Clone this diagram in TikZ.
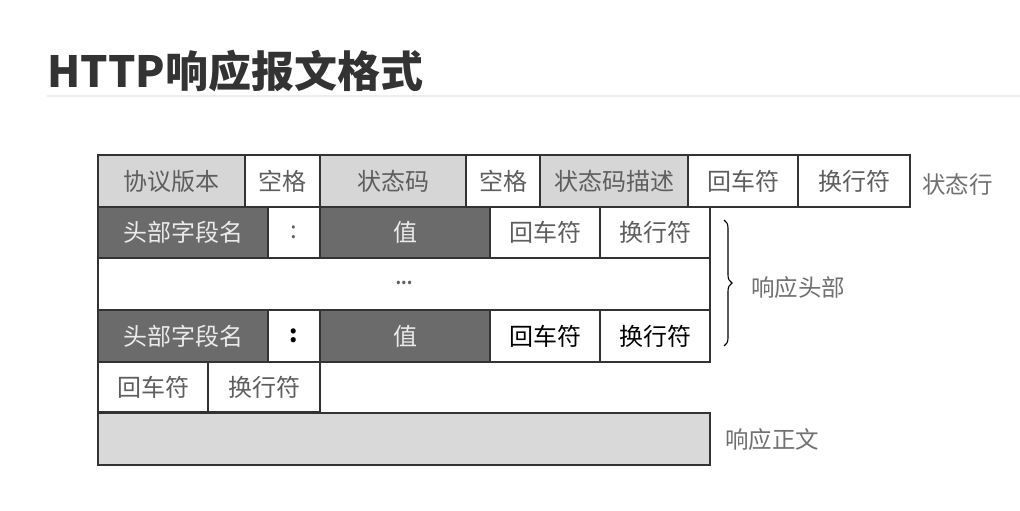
\documentclass[tikz,border=0pt]{standalone}
\usepackage{fontspec}
\setmainfont{Noto Sans CJK SC}
\usetikzlibrary{decorations.pathreplacing}
\definecolor{lightcell}{HTML}{D6D6D6}
\definecolor{darkcell}{HTML}{6B6B6B}
\definecolor{bodycell}{HTML}{D9D9D9}
\definecolor{edge}{HTML}{333333}
\definecolor{softtext}{HTML}{5E5E5E}
\definecolor{labeltext}{HTML}{707070}
\definecolor{titletext}{HTML}{333333}
\definecolor{rule}{HTML}{EEEEEE}
\newcommand{\mkcell}[7]{%
  \node[cellbox,#6,anchor=north west,minimum width={(#4)-(#2)},minimum height={(#5)-(#3)}] (#1) at (#2,#3) {#7};}
\begin{document}
\begin{tikzpicture}[x=1pt,y=-1pt,
  cellbox/.style={draw=edge,line width=1.4pt,inner sep=0pt,outer sep=0pt,text=softtext,font=\fontsize{24}{28}\selectfont},
  light/.style={fill=lightcell},
  dark/.style={fill=darkcell,text=white!92!black},
  blank/.style={fill=white},
  strong/.style={fill=white,text=black},
  sidelabel/.style={text=labeltext,font=\fontsize{23.5}{27}\selectfont,inner sep=0pt}]
\useasboundingbox (0,0) rectangle (1020,511);
% title
\node[anchor=base west,inner sep=0pt,text=titletext,font=\fontsize{43}{50}\selectfont\bfseries] (title) at (47,88) {HTTP响应报文格式};
\coordinate (ruleL) at (47,96);
\coordinate (ruleR) at (1020,96);
\draw[rule,line width=2pt] (ruleL) -- (ruleR);
% row 1: status line
\mkcell{r1a}{98}{155}{245}{207}{light}{协议版本}
\mkcell{r1b}{245}{155}{320}{207}{blank}{空格}
\mkcell{r1c}{320}{155}{466}{207}{light}{状态码}
\mkcell{r1d}{466}{155}{540}{207}{blank}{空格}
\mkcell{r1e}{540}{155}{688}{207}{light}{状态码描述}
\mkcell{r1f}{688}{155}{798}{207}{blank}{回车符}
\mkcell{r1g}{798}{155}{910}{207}{blank}{换行符}
% row 2: header line
\mkcell{r2a}{98}{207}{268}{258}{dark}{头部字段名}
\mkcell{r2b}{268}{207}{320}{258}{blank}{:}
\mkcell{r2c}{320}{207}{490}{258}{dark}{值}
\mkcell{r2d}{490}{207}{600}{258}{blank}{回车符}
\mkcell{r2e}{600}{207}{710}{258}{blank}{换行符}
% row 3: ellipsis
\mkcell{r3}{98}{258}{710}{310}{blank}{\raisebox{3pt}{\fontsize{16}{18}\selectfont\bfseries ...}}
% row 4: header line
\mkcell{r4a}{98}{310}{268}{362}{dark}{头部字段名}
\mkcell{r4b}{268}{310}{320}{362}{strong}{\bfseries :}
\mkcell{r4c}{320}{310}{490}{362}{dark}{值}
\mkcell{r4d}{490}{310}{600}{362}{strong}{回车符}
\mkcell{r4e}{600}{310}{710}{362}{strong}{换行符}
% row 5: empty line
\mkcell{r5a}{98}{362}{208}{412}{blank}{回车符}
\mkcell{r5b}{208}{362}{320}{412}{blank}{换行符}
% row 6: body
\mkcell{r6}{98}{413}{710}{465}{fill=bodycell}{}
% side labels
\node[sidelabel,anchor=west] (lstatus) at (922,185) {状态行};
\coordinate (braceTop) at (724,220);
\coordinate (braceBot) at (724,346);
\draw[decorate,decoration={brace,amplitude=8pt,aspect=0.5},line width=1.1pt,black] (braceTop) -- (braceBot);
\node[sidelabel,anchor=west] (lhead) at (751,288) {响应头部};
\node[sidelabel,anchor=west] (lbody) at (725,440) {响应正文};
\end{tikzpicture}
\end{document}
